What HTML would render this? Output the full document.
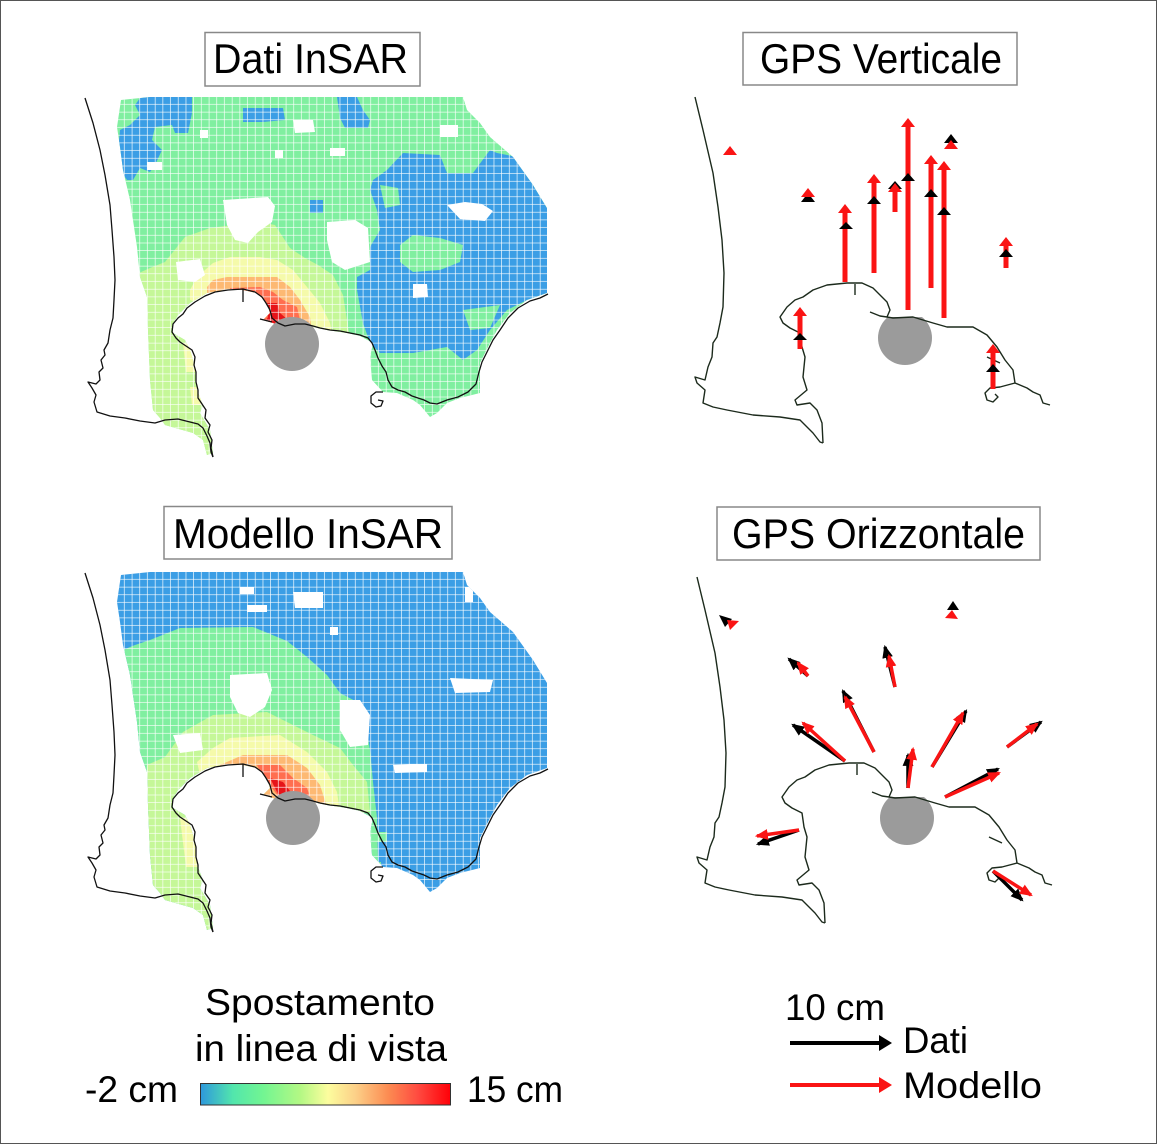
<!DOCTYPE html>
<html><head><meta charset="utf-8"><style>
html,body{margin:0;padding:0;background:#fff;}
svg{display:block;}
text{font-family:"Liberation Sans",sans-serif;fill:#000;}
</style></head><body>
<svg width="1157" height="1144" viewBox="0 0 1157 1144" xmlns="http://www.w3.org/2000/svg">
<defs>
<clipPath id="mk"><polygon points="121,100 150,97 463,97 467,110 480,123 490,137 513,157 533,185 547,208 547,293 527,300 510,313 497,330 490,343 480,363 480,393 460,398 447,403 437,413 430,417 420,405 413,400 397,393 383,392 372,380 370,357 373,343 360,336 347,333 327,330 313,327 297,323 283,327 273,323 263,320 270,313 267,303 257,293 243,290 223,290 207,293 190,303 178,315 172,325 173,333 185,340 190,350 195,367 197,390 203,405 200,413 210,430 213,453 207,455 203,440 193,433 165,425 160,418 153,410 150,380 148,330 147,297 140,277 137,247 130,200 123,170 120,147 117,127"/></clipPath>
<pattern id="grid" x="117" y="97" width="7.7" height="7.7" patternUnits="userSpaceOnUse"><path d="M7.7,0V7.7M0,7.7H7.7" stroke="#fff" stroke-width="1.3" fill="none"/></pattern>
<linearGradient id="cb" x1="0" x2="1" y1="0" y2="0">
<stop offset="0" stop-color="#2e98dc"/><stop offset="0.13" stop-color="#52e6ac"/><stop offset="0.25" stop-color="#72f592"/><stop offset="0.4" stop-color="#b4f884"/><stop offset="0.51" stop-color="#fcfd9e"/><stop offset="0.62" stop-color="#fcd088"/><stop offset="0.75" stop-color="#fc8c52"/><stop offset="0.87" stop-color="#ff4a40"/><stop offset="1" stop-color="#ff0008"/>
</linearGradient>
<marker id="ab" viewBox="0 0 12 10" refX="10" refY="5" markerWidth="13" markerHeight="11" orient="auto" markerUnits="userSpaceOnUse"><path d="M0,0L12,5L0,10z" fill="#000"/></marker>
<marker id="ar" viewBox="0 0 12 10" refX="10" refY="5" markerWidth="13" markerHeight="11" orient="auto" markerUnits="userSpaceOnUse"><path d="M0,0L12,5L0,10z" fill="#fa1414"/></marker>
<clipPath id="cv"><rect x="870" y="317" width="80" height="60"/></clipPath>
<clipPath id="ch"><rect x="870" y="797" width="80" height="60"/></clipPath>
<g id="icoast" fill="none" stroke="#111" stroke-width="1.3" stroke-linejoin="round">
<polyline points="85,98 93,123 100,150 105,175 110,205 112,230 114,257 115,280 114,300 113,318 110,330 108,343 104,350 105,355 101,360 103,368 99,372 100,380 96,384 88,382 92,388 96,395 94,402 97,412 110,416 125,418 140,421 155,423 165,420 178,419 190,422 198,424 203,428 207,436 210,443 211,452 213,457"/>
<polyline points="213,457 211,448 212,440 208,432 210,425 205,418 206,410 202,404 198,398 198,390 196,382 196,372 194,365 195,357 192,350 186,346 180,342 176,338 172,332 173,324 178,318 183,314 187,308 195,302 205,296 215,292 228,290 243,289 255,292 262,297 266,303 270,310 272,318 278,323 285,326 295,324 305,324 313,326 320,328 330,330 340,331 350,333 360,335 368,338 372,343 375,350 378,358 382,366 386,372 388,380 392,387 398,390 405,392 412,396 418,398 424,400 430,403 437,404 447,400 458,397 468,392 476,384 479,372 482,362 488,350 493,340 500,330 508,318 518,308 530,301 540,298 548,294"/>
<polyline points="260,319 272,322"/>
<polyline points="243,289 243,302"/>
<polyline points="383,392 376,392 371,396 371,403 376,407 381,406 383,401 378,400"/>
</g>
<g id="gcoast" fill="none" stroke="#1c2a1c" stroke-width="1.4" stroke-linejoin="round">
<polyline points="695,97 703,130 713,173 718,207 722,240 724,273 723,307 720,323 717,337 713,343 712,357 708,367 705,380 695,377 697,383 705,390 703,403 713,407 727,410 753,415 780,417 800,420 807,427 813,433 820,442 823,443"/>
<polyline points="823,443 822,423 817,410 810,403 797,405 795,400 807,390 803,377 805,357 802,347 800,333 790,328 783,323 780,317 787,307 795,300 803,297 813,290 827,285 847,283 862,283 873,288 880,295 887,302 890,310 887,317 893,318 913,317 933,323 947,327 973,327 987,335 997,347 1005,360 1013,370 1015,383 1027,388 1033,392 1040,395 1043,403 1050,405"/>
<polyline points="870,312 880,316 887,317"/>
<polyline points="855,284 855,295"/>
<polyline points="1015,383 1000,387 990,388 985,393 987,400 993,402 998,397 995,394"/>
<polyline points="987,357 1000,363"/>
</g>
</defs>

<rect x="0.5" y="0.5" width="1156" height="1143" fill="#fff" stroke="#555" stroke-width="1"/>

<!-- Titles -->
<rect x="205" y="32.5" width="215" height="53.5" fill="#fff" stroke="#888" stroke-width="1.5"/>
<text x="213" y="73" font-size="42" textLength="195" lengthAdjust="spacingAndGlyphs">Dati InSAR</text>
<rect x="743" y="32.5" width="274" height="52.5" fill="#fff" stroke="#888" stroke-width="1.5"/>
<text x="760" y="73" font-size="42" textLength="242" lengthAdjust="spacingAndGlyphs">GPS Verticale</text>
<rect x="164" y="506.5" width="288" height="52.5" fill="#fff" stroke="#888" stroke-width="1.5"/>
<text x="173" y="548" font-size="42" textLength="270" lengthAdjust="spacingAndGlyphs">Modello InSAR</text>
<rect x="717" y="507" width="323" height="53" fill="#fff" stroke="#888" stroke-width="1.5"/>
<text x="732" y="548" font-size="42" textLength="293" lengthAdjust="spacingAndGlyphs">GPS Orizzontale</text>

<!-- Dati InSAR map -->
<g clip-path="url(#mk)">
<rect x="100" y="90" width="460" height="380" fill="#80efa0"/>
<polygon fill="#3b9ee5" points="147,97 192,97 192,113 188,133 175,133 172,125 155,127 152,140 162,150 155,165 150,172 140,168 133,180 127,180 120,170 118,150 120,130 130,125 140,115 135,105 140,98"/>
<polygon fill="#3b9ee5" points="243,108 283,108 285,120 263,122 243,122"/>
<polygon fill="#3b9ee5" points="337,97 357,97 363,110 370,120 368,128 345,128 340,118"/>
<polygon fill="#3b9ee5" points="310,200 323,200 323,213 310,213"/>
<polygon fill="#3b9ee5" points="373,180 387,170 403,153 440,155 447,173 473,173 490,150 497,153 517,157 533,185 547,208 547,293 527,300 507,310 490,330 477,350 463,360 447,347 413,353 380,353 370,343 363,323 357,290 357,277 370,270 370,247 380,230 377,210 370,190"/>
<polygon fill="#80efa0" points="400,245 413,235 440,238 463,245 460,262 440,270 413,272 400,262"/>
<polygon fill="#80efa0" points="463,310 500,305 490,328 470,330"/>
<polygon fill="#80efa0" points="380,185 398,188 400,205 385,208"/>
<polygon fill="#c5f798" points="130,277 150,268 165,262 185,237 210,228 233,225 260,222 275,225 290,248 305,258 318,265 333,275 343,295 347,320 350,340 300,340 220,470 130,470"/>
<polygon fill="#f5faaa" points="190,290 197,277 213,263 230,257 260,257 277,260 293,270 307,287 320,303 330,323 333,338 300,340 190,300"/>
<polygon fill="#f5faaa" points="183,343 195,343 197,372 186,372"/>
<polygon fill="#f5faaa" points="190,387 200,387 203,405 192,405"/>
<polygon fill="#fdb973" points="207,287 213,280 227,277 277,277 290,287 300,300 310,317 312,332 280,332 207,293"/>
<polygon fill="#ff6e50" points="230,288 260,287 273,292 283,300 297,307 300,320 303,330 270,330 230,292"/>
<polygon fill="#e61419" points="265,303 277,303 280,313 288,320 291,330 263,326 268,317"/>
<g fill="#fff">
<polygon points="223,200 268,197 275,206 272,222 258,232 248,243 235,240 227,225"/>
<polygon points="327,222 355,220 368,228 370,262 345,270 332,262 327,240"/>
<polygon points="176,262 200,259 205,275 195,282 178,280"/>
<polygon points="293,120 313,120 315,132 295,133"/>
<polygon points="413,284 427,284 428,297 413,298"/>
<polygon points="447,205 465,202 482,204 493,211 485,221 460,219"/>
<polygon points="440,125 458,125 458,137 440,137"/>
<rect x="147" y="162" width="15" height="8"/>
<rect x="330" y="148" width="15" height="8"/>
<rect x="200" y="130" width="8" height="8"/>
<rect x="275" y="150" width="8" height="8"/>
</g>
<rect x="100" y="90" width="460" height="380" fill="url(#grid)"/>
</g>
<circle cx="292" cy="344" r="27" fill="#9b9b9b"/>
<use href="#icoast"/>

<!-- Modello InSAR map -->
<g transform="translate(0,475)">
<g clip-path="url(#mk)">
<rect x="100" y="90" width="460" height="380" fill="#3b9ee5"/>
<polygon fill="#80efa0" points="100,177 118,177 135,170 150,165 180,153 253,152 287,166 307,182 327,200 340,218 363,230 370,275 373,307 377,343 380,470 100,470"/>
<polygon fill="#80efa0" points="370,357 387,357 387,367 370,367"/>
<polygon fill="#80efa0" points="372,387 381,387 381,407 372,407"/>
<polygon fill="#c5f798" points="147,290 165,282 183,257 213,240 267,237 287,247 313,260 340,273 353,290 367,307 370,337 300,345 220,470 140,470"/>
<polygon fill="#f5faaa" points="197,287 213,273 230,263 280,260 307,277 327,297 337,317 340,337 300,340 200,300"/>
<polygon fill="#f5faaa" points="180,343 195,343 198,392 186,392"/>
<polygon fill="#fdb973" points="220,290 243,280 287,280 307,293 320,310 328,335 285,333 222,296"/>
<polygon fill="#ff6e50" points="257,290 280,290 293,303 307,313 313,330 285,330 262,300"/>
<polygon fill="#e61419" points="270,303 283,307 293,320 293,328 283,328 277,317"/>
<g fill="#fff">
<polygon points="230,200 267,198 272,215 265,232 250,242 238,238 230,222"/>
<polygon points="340,225 360,225 370,240 368,270 350,272 340,255"/>
<polygon points="173,260 200,258 203,275 180,278"/>
<polygon points="293,117 323,117 323,133 295,133"/>
<polygon points="450,203 493,205 490,217 455,218"/>
<polygon points="393,290 427,289 427,297 395,298"/>
<rect x="247" y="130" width="20" height="7"/>
<rect x="240" y="112" width="14" height="7"/>
<rect x="465" y="112" width="8" height="15"/>
<rect x="330" y="152" width="8" height="8"/>
</g>
<rect x="100" y="90" width="460" height="380" fill="url(#grid)"/>
</g>
<circle cx="293" cy="343" r="27" fill="#9b9b9b"/>
<use href="#icoast"/>
</g>

<!-- GPS Verticale -->
<circle cx="905" cy="338" r="27" fill="#9b9b9b" clip-path="url(#cv)"/>
<use href="#gcoast"/>
<g stroke="#fa1414" stroke-width="5">
<line x1="845" y1="282" x2="845" y2="210"/>
<line x1="874" y1="273" x2="874" y2="180"/>
<line x1="895" y1="212" x2="895" y2="188"/>
<line x1="908" y1="310" x2="908" y2="124"/>
<line x1="931" y1="288" x2="931" y2="161"/>
<line x1="944" y1="318" x2="944" y2="167"/>
<line x1="1006" y1="268" x2="1006" y2="243"/>
<line x1="800" y1="349" x2="800" y2="313"/>
<line x1="993" y1="389" x2="993" y2="350"/>
</g>
<g fill="#000">
<polygon points="808,193 815,202 801,202"/>
<polygon points="846,222 853,229 839,229"/>
<polygon points="874,196 881,204 867,204"/>
<polygon points="895,181 902,189 888,189"/>
<polygon points="908,173 915,181 901,181"/>
<polygon points="951,134 958,143 944,143"/>
<polygon points="931,189 938,197 924,197"/>
<polygon points="944,207 951,215 937,215"/>
<polygon points="1006,249 1013,257 999,257"/>
<polygon points="800,333 807,340 793,340"/>
<polygon points="993,364 1000,372 986,372"/>
</g>
<g fill="#fa1414">
<polygon points="730,146 737,155 723,155"/>
<polygon points="808,188 815,197 801,197"/>
<polygon points="845,204 852,213 838,213"/>
<polygon points="874,174 881,183 867,183"/>
<polygon points="895,183 902,192 888,192"/>
<polygon points="908,118 915,127 901,127"/>
<polygon points="951,140 958,149 944,149"/>
<polygon points="931,155 938,164 924,164"/>
<polygon points="944,161 951,170 937,170"/>
<polygon points="1006,237 1013,246 999,246"/>
<polygon points="800,307 807,316 793,316"/>
<polygon points="993,344 1000,353 986,353"/>
</g>

<!-- GPS Orizzontale -->
<circle cx="907" cy="818" r="27" fill="#9b9b9b" clip-path="url(#ch)"/>
<use href="#gcoast" transform="translate(2,480)"/>
<g stroke="#000" stroke-width="3.5" marker-end="url(#ab)">
<line x1="808" y1="676" x2="789" y2="659"/>
<line x1="895" y1="687" x2="885" y2="647"/>
<line x1="874" y1="752" x2="843" y2="691"/>
<line x1="845" y1="761" x2="793" y2="725"/>
<line x1="908" y1="788" x2="908" y2="755"/>
<line x1="932" y1="767" x2="966" y2="711"/>
<line x1="1007" y1="747" x2="1041" y2="722"/>
<line x1="945" y1="797" x2="998" y2="769"/>
<line x1="799" y1="830" x2="758" y2="844"/>
<line x1="993" y1="871" x2="1022" y2="900"/>
</g>
<polygon points="719,615 732,619 725,627" fill="#000"/>
<polygon points="953,601 959,610 947,610" fill="#000"/>
<g stroke="#fa1414" stroke-width="3.5" marker-end="url(#ar)">
<line x1="808" y1="676" x2="798" y2="663"/>
<line x1="895" y1="687" x2="889" y2="656"/>
<line x1="874" y1="752" x2="845" y2="697"/>
<line x1="845" y1="761" x2="803" y2="723"/>
<line x1="908" y1="788" x2="913" y2="749"/>
<line x1="932" y1="767" x2="963" y2="713"/>
<line x1="1007" y1="747" x2="1037" y2="724"/>
<line x1="945" y1="797" x2="999" y2="773"/>
<line x1="799" y1="830" x2="757" y2="836"/>
<line x1="993" y1="871" x2="1031" y2="895"/>
</g>
<polygon points="727,620 739,621 730,630" fill="#fa1414"/>
<polygon points="952,610 958,619 945,618" fill="#fa1414"/>

<!-- Colorbar legend -->
<text x="205" y="1015" font-size="37" textLength="230" lengthAdjust="spacingAndGlyphs">Spostamento</text>
<text x="195" y="1061" font-size="37" textLength="252" lengthAdjust="spacingAndGlyphs">in linea di vista</text>
<text x="85" y="1102" font-size="37" textLength="93" lengthAdjust="spacingAndGlyphs">-2 cm</text>
<rect x="200.5" y="1083.5" width="250" height="21.5" fill="url(#cb)" stroke="#333" stroke-width="1"/>
<text x="467" y="1102" font-size="37" textLength="96" lengthAdjust="spacingAndGlyphs">15 cm</text>

<!-- Arrow legend -->
<text x="785" y="1020" font-size="37" textLength="100" lengthAdjust="spacingAndGlyphs">10 cm</text>
<line x1="790" y1="1043" x2="882" y2="1043" stroke="#000" stroke-width="4"/>
<polygon points="879,1035 892,1043 879,1051" fill="#000"/>
<text x="903" y="1053" font-size="37" textLength="65" lengthAdjust="spacingAndGlyphs">Dati</text>
<line x1="790" y1="1085" x2="882" y2="1085" stroke="#fa1414" stroke-width="4"/>
<polygon points="879,1077 892,1085 879,1093" fill="#fa1414"/>
<text x="903" y="1098" font-size="37" textLength="139" lengthAdjust="spacingAndGlyphs">Modello</text>
</svg>
</body></html>
